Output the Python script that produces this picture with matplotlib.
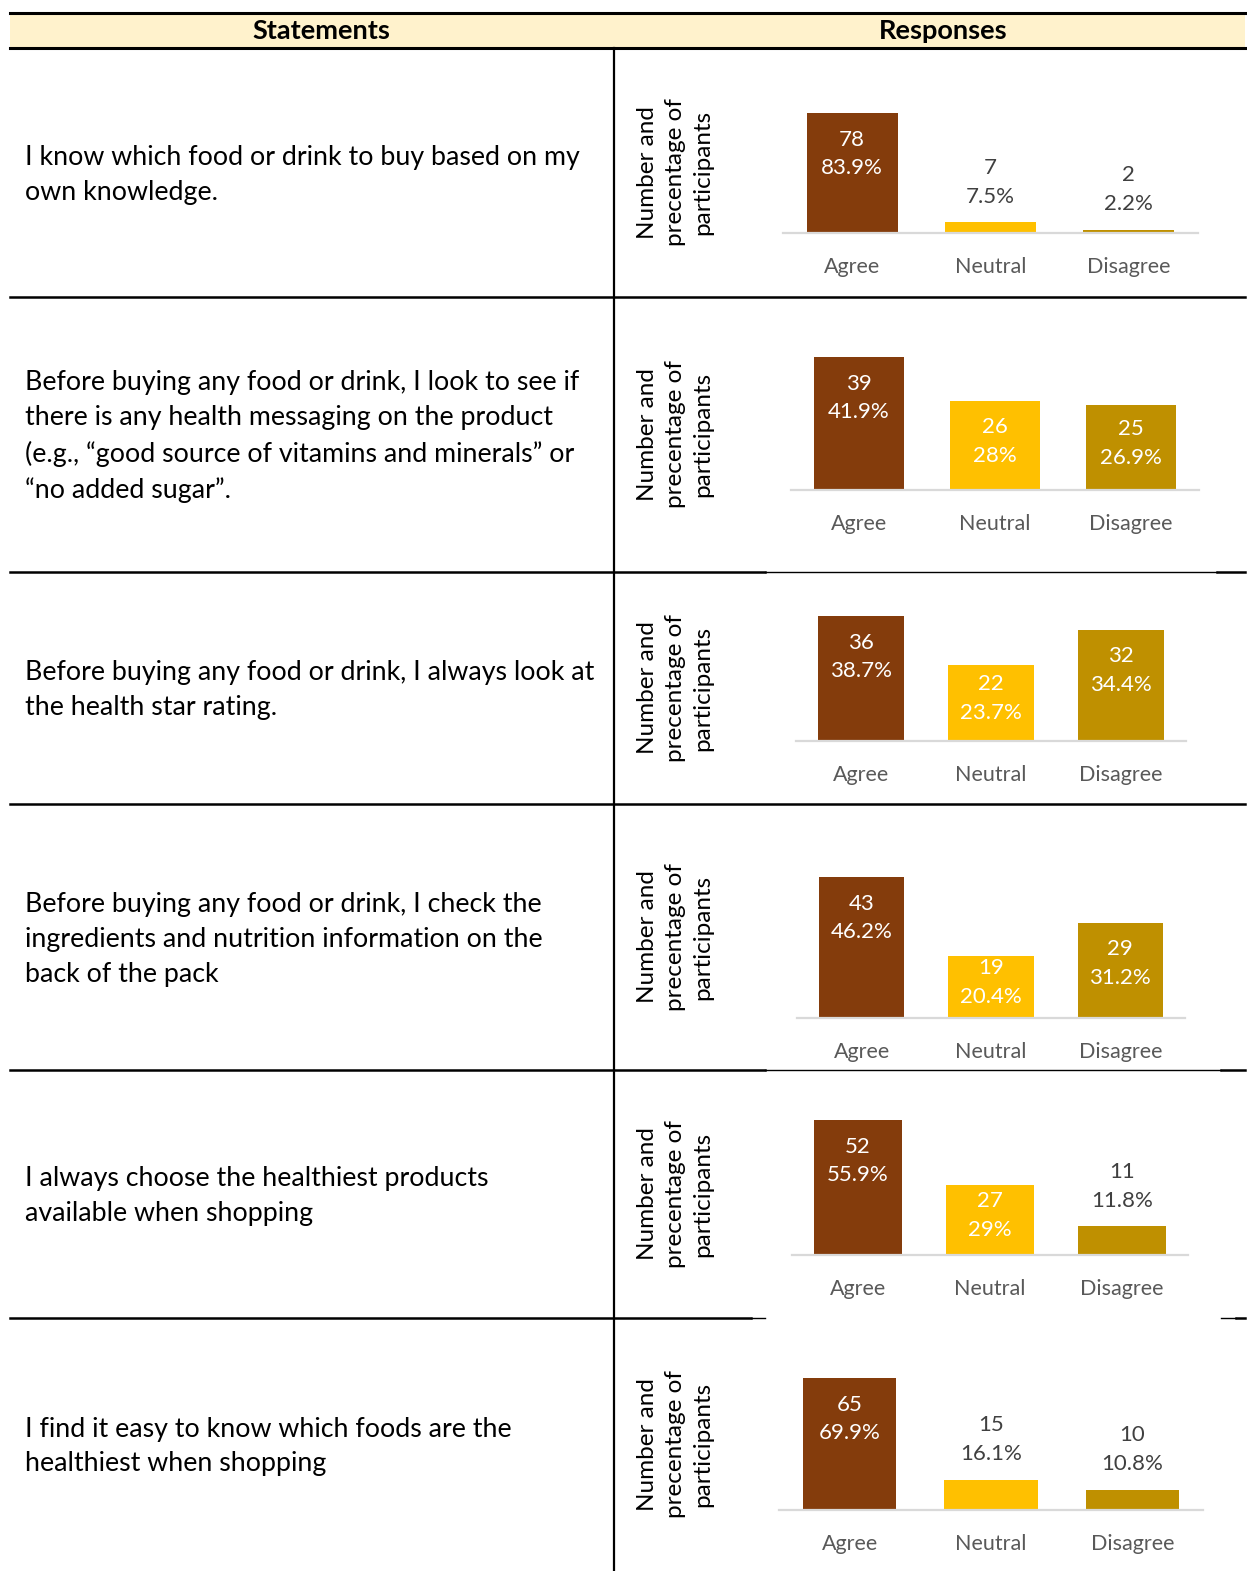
import matplotlib

matplotlib.use("Agg")
import matplotlib.pyplot as plt

W, H, DPI = 1247, 1571, 100

plt.rcParams["font.family"] = ["Lato", "DejaVu Sans"]

statements = [
    "I know which food or drink to buy based on my\nown knowledge.",
    "Before buying any food or drink, I look to see if\nthere is any health messaging on the product\n"
    "(e.g., \u201cgood source of vitamins and minerals\u201d or\n\u201cno added sugar\u201d.",
    "Before buying any food or drink, I always look at\nthe health star rating.",
    "Before buying any food or drink, I check the\ningredients and nutrition information on the\nback of the pack",
    "I always choose the healthiest products\navailable when shopping",
    "I find it easy to know which foods are the\nhealthiest when shopping",
]
categories = ["Agree", "Neutral", "Disagree"]
counts = [
    [78, 7, 2],
    [39, 26, 25],
    [36, 22, 32],
    [43, 19, 29],
    [52, 27, 11],
    [65, 15, 10],
]
percents = [
    [83.9, 7.5, 2.2],
    [41.9, 28, 26.9],
    [38.7, 23.7, 34.4],
    [46.2, 20.4, 31.2],
    [55.9, 29, 11.8],
    [69.9, 16.1, 10.8],
]
y_label = "Number and\nprecentage of\nparticipants"

bar_colors = ["#843C0C", "#FFC000", "#BF9000"]

# table geometry in pixels (y grows downwards)
row_edges = [48, 297, 572, 804, 1070, 1318, 1571]
col_split = 614
# per-chart box: left, right, baseline, top of tallest bar
chart_boxes = [
    (783, 1198, 233, 113),
    (791, 1199, 490, 357),
    (796, 1186, 741, 616),
    (797, 1185, 1018, 877),
    (792, 1188, 1255, 1120),
    (779, 1203, 1510, 1378),
]

fig = plt.figure(figsize=(W / DPI, H / DPI), dpi=DPI)
bg = fig.add_axes([0, 0, 1, 1])
bg.set_xlim(0, W)
bg.set_ylim(H, 0)
bg.axis("off")

# header band
bg.fill_between([10, 1245], 13, 48, color="#FFF2CC", lw=0)
bg.plot([10, 1245], [13, 13], color="black", lw=2.2)
bg.plot([10, 1245], [48, 48], color="black", lw=2.2)
bg.text(321, 31, "Statements", ha="center", va="center", fontsize=19.5, fontweight="bold")
bg.text(943, 31, "Responses", ha="center", va="center", fontsize=19.5, fontweight="bold")

# column divider and row rules
bg.plot([col_split, col_split], [48, H], color="black", lw=1.6)
thick, thin = 1.8, 1.0
bg.plot([10, 1245], [297, 297], color="black", lw=thick)
bg.plot([10, 765], [572, 572], color="black", lw=thick)
bg.plot([765, 1217], [572, 572], color="black", lw=thin)
bg.plot([1217, 1245], [572, 572], color="black", lw=thick)
bg.plot([10, 1245], [804, 804], color="black", lw=thick)
bg.plot([10, 765], [1070, 1070], color="black", lw=thick)
bg.plot([765, 1221], [1070, 1070], color="black", lw=thin)
bg.plot([1221, 1245], [1070, 1070], color="black", lw=thick)
bg.plot([10, 751], [1318, 1318], color="black", lw=thick)
bg.plot([751, 765], [1318, 1318], color="black", lw=thin)
bg.plot([1221, 1236], [1318, 1318], color="black", lw=thin)
bg.plot([1236, 1245], [1318, 1318], color="black", lw=thick)

for r, text in enumerate(statements):
    yc = (row_edges[r] + row_edges[r + 1]) / 2
    bg.text(25, yc + 2, text, ha="left", va="center", fontsize=19.3,
            linespacing=1.5, color="black")
    bg.text(675, yc, y_label, ha="center", va="center", rotation=90,
            fontsize=17.5, linespacing=1.37, color="black")

for r, (x0, x1, base, top) in enumerate(chart_boxes):
    ax = fig.add_axes([x0 / W, 1 - base / H, (x1 - x0) / W, (base - top) / H])
    ax.patch.set_alpha(0)
    vals = counts[r]
    ax.bar(range(3), vals, width=0.66, color=bar_colors)
    ax.set_xlim(-0.5, 2.5)
    ax.set_ylim(0, max(vals))
    for side in ("left", "right", "top"):
        ax.spines[side].set_visible(False)
    ax.spines["bottom"].set_color("#D9D9D9")
    ax.spines["bottom"].set_linewidth(1.6)
    ax.set_yticks([])
    ax.set_xticks(range(3), categories)
    ax.tick_params(axis="x", length=0, pad=17, labelsize=15.5, labelcolor="#595959")

    px_per_unit = (base - top) / max(vals)
    for i, (c, p) in enumerate(zip(vals, percents[r])):
        label = f"{c}\n{p:g}%"
        h_px = c * px_per_unit
        if h_px >= 55:
            drop = min(41, h_px / 2 - 4)
            ax.annotate(label, (i, c), xytext=(0, -drop), textcoords="offset pixels",
                        ha="center", va="center", fontsize=16, linespacing=1.56,
                        color="white")
        else:
            ax.annotate(label, (i, c), xytext=(0, 40), textcoords="offset pixels",
                        ha="center", va="center", fontsize=16, linespacing=1.56,
                        color="#404040")

fig.savefig("out.png", dpi=DPI)
